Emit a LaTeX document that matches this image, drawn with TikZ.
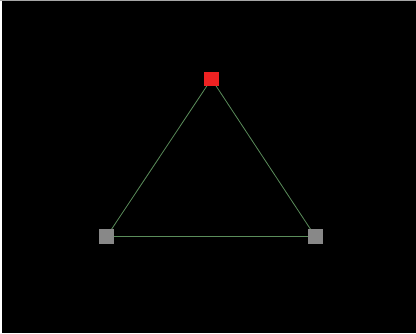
\documentclass[tikz,border=0pt]{standalone}
\begin{document}
\begin{tikzpicture}[x=1pt,y=-1pt,
  vert/.style={rectangle,draw=none,minimum size=14.5pt,inner sep=0pt},
  edge/.style={draw={rgb,255:red,90;green,140;blue,90},line width=0.8pt}]
\useasboundingbox (0,0) rectangle (416,333);
\fill[black] (0,0) rectangle (416,333);
\fill[white] (0,0) rectangle (2,333);
\fill[gray!70] (0,0) rectangle (416,1);
\coordinate (ta) at (211.5,79);
\coordinate (la) at (106.7,236.5);
\coordinate (ra) at (315.3,236.5);
\draw[edge] (ta) -- (la);
\draw[edge] (ta) -- (ra);
\draw[edge] (la) -- (ra);
\node[vert,fill={rgb,255:red,238;green,34;blue,34}] (top) at (ta) {};
\node[vert,fill={rgb,255:red,136;green,136;blue,136}] (left) at (la) {};
\node[vert,fill={rgb,255:red,136;green,136;blue,136}] (right) at (ra) {};
\end{tikzpicture}
\end{document}
